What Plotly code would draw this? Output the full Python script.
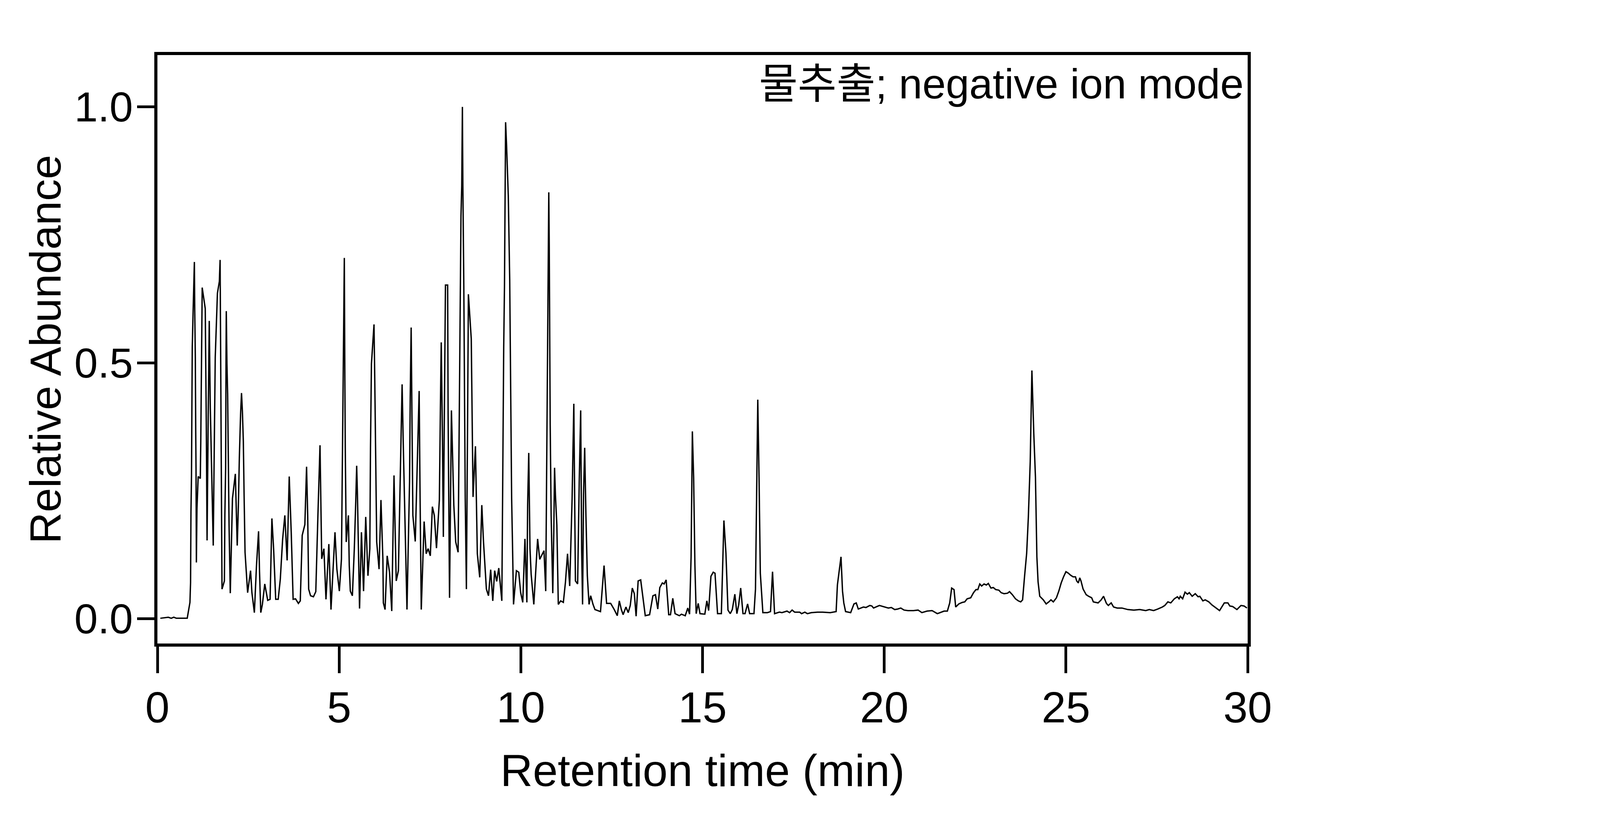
"""
Total ion chromatogram (water extract, negative ion mode): relative abundance vs retention time.
"""

import plotly.graph_objects as go

# Retention time (min) and relative abundance
rt_min = [
    0.08, 0.20, 0.30, 0.38, 0.45, 0.52, 0.82, 0.895,
    0.912, 0.923, 0.938, 0.949, 0.959, 0.983, 1.017, 1.027, 1.043, 1.054,
    1.062, 1.072, 1.088, 1.122, 1.180, 1.193, 1.206, 1.219, 1.232, 1.316,
    1.332, 1.345, 1.366, 1.381, 1.397, 1.426, 1.455, 1.481, 1.504, 1.536,
    1.552, 1.573, 1.591, 1.651, 1.704, 1.725, 1.735, 1.748, 1.756, 1.766,
    1.777, 1.803, 1.843, 1.856, 1.877, 1.887, 1.895, 1.913, 1.932, 1.953,
    1.971, 2.005, 2.039, 2.065, 2.144, 2.170, 2.196, 2.228, 2.254, 2.288,
    2.314, 2.338, 2.364, 2.385, 2.411, 2.482, 2.563, 2.600, 2.668, 2.726,
    2.783, 2.810, 2.844, 2.888, 2.954, 3.035, 3.100, 3.150, 3.197, 3.255,
    3.323, 3.381, 3.446, 3.506, 3.569, 3.627, 3.682, 3.734, 3.800, 3.879,
    3.931, 3.984, 4.057, 4.104, 4.135, 4.162, 4.214, 4.293, 4.358, 4.416,
    4.474, 4.521, 4.581, 4.638, 4.717,
    4.776, 4.886, 4.938, 5.006, 5.064, 5.090, 5.111, 5.124, 5.143, 5.158,
    5.169, 5.195, 5.255, 5.279, 5.308, 5.365, 5.418, 5.457, 5.483, 5.504,
    5.523, 5.562, 5.614, 5.640, 5.672, 5.732, 5.793, 5.845, 5.863, 5.889,
    5.908, 5.960, 5.981, 6.007, 6.034, 6.099, 6.151, 6.204, 6.217, 6.264,
    6.322, 6.387, 6.448, 6.510, 6.571, 6.631, 6.688, 6.733, 6.767, 6.820,
    6.867, 6.938, 6.956, 6.982, 7.003, 7.029, 7.095, 7.160, 7.202, 7.228,
    7.260, 7.339, 7.396, 7.448, 7.509, 7.566, 7.619, 7.679, 7.758, 7.789,
    7.810, 7.841, 7.868, 7.899, 7.926, 7.986, 7.999, 8.038, 8.070, 8.090,
    8.156, 8.208, 8.274, 8.326, 8.353, 8.374, 8.392, 8.405, 8.431, 8.470,
    8.502, 8.536, 8.557, 8.636,
    8.685, 8.751, 8.777, 8.803, 8.869, 8.926, 8.973, 9.052, 9.110, 9.170,
    9.228, 9.280, 9.335, 9.393, 9.477, 9.498, 9.511, 9.529, 9.550, 9.566,
    9.581, 9.608, 9.655, 9.694, 9.720, 9.747, 9.773, 9.799, 9.878, 9.943,
    9.995, 10.053, 10.113, 10.166, 10.187, 10.218, 10.252, 10.284, 10.357, 10.462,
    10.520, 10.637, 10.685, 10.716, 10.742, 10.755, 10.769, 10.782, 10.808, 10.834,
    10.879, 10.907, 10.928, 10.952, 10.991, 11.031, 11.096, 11.170, 11.227, 11.285,
    11.345, 11.411, 11.458, 11.502, 11.563, 11.607, 11.647, 11.673, 11.699, 11.725,
    11.757, 11.791, 11.830, 11.877, 11.922, 11.987, 12.040,
    12.192, 12.290, 12.360, 12.472, 12.563, 12.654, 12.710, 12.766, 12.815, 12.892,
    12.955, 13.011, 13.067, 13.123, 13.172, 13.228, 13.298, 13.354, 13.424, 13.543,
    13.634, 13.704, 13.768, 13.824, 13.894, 13.943, 13.999, 14.069, 14.118, 14.181,
    14.244, 14.363, 14.419, 14.524, 14.594, 14.643, 14.685, 14.720, 14.755, 14.790,
    14.825, 14.881, 14.930, 15.063, 15.119, 15.168, 15.231, 15.294, 15.343, 15.413,
    15.518, 15.588, 15.644, 15.700, 15.763, 15.819, 15.889, 15.945, 15.994, 16.050,
    16.113, 16.169, 16.240, 16.296, 16.415, 16.457, 16.492, 16.520, 16.555, 16.590,
    16.660, 16.786, 16.870, 16.926, 16.982, 17.115, 17.185, 17.325, 17.395, 17.465,
    17.535, 17.675, 17.724, 17.815, 17.885, 17.990, 18.165, 18.305, 18.515, 18.676,
    18.711, 18.761, 18.810, 18.852, 18.887, 18.936, 19.076, 19.167, 19.230, 19.286,
    19.426, 19.496, 19.601, 19.657, 19.706, 19.867, 20.021, 20.112, 20.196, 20.287,
    20.371, 20.455, 20.546, 20.651, 20.805, 20.931, 21.036, 21.176, 21.317,
    21.461, 21.645, 21.737, 21.802, 21.855, 21.920, 21.966, 22.051, 22.149, 22.215,
    22.281, 22.379, 22.457, 22.523, 22.575, 22.628, 22.680, 22.746, 22.811, 22.864,
    22.936, 23.001, 23.067, 23.152, 23.217, 23.296, 23.394, 23.447, 23.526, 23.611,
    23.689, 23.755, 23.807, 23.860, 23.919, 23.965, 24.017, 24.063, 24.115, 24.161,
    24.200, 24.233, 24.279, 24.377, 24.456, 24.528, 24.587, 24.653, 24.738, 24.803,
    24.869, 24.934, 25.000, 25.066, 25.131, 25.197, 25.262, 25.295, 25.341, 25.380,
    25.413, 25.472, 25.557, 25.623, 25.708, 25.754, 25.885, 25.970, 26.035, 26.114,
    26.166, 26.245, 26.311, 26.409, 26.540, 26.704, 26.868, 27.031, 27.195, 27.294,
    27.412, 27.523, 27.654, 27.720, 27.805, 27.884, 27.982, 28.067, 28.113, 28.146,
    28.211, 28.277, 28.342, 28.394, 28.473, 28.558, 28.637, 28.683, 28.768, 28.833,
    28.932, 29.017, 29.096, 29.227, 29.358, 29.456, 29.509, 29.587, 29.705, 29.817,
    29.902, 29.980,
]

rel_abundance = [
    0.001, 0.002, 0.003, 0.001, 0.003, 0.001, 0.001, 0.032,
    0.071, 0.209, 0.281, 0.419, 0.531, 0.603, 0.697, 0.603, 0.511, 0.366,
    0.294, 0.110, 0.215, 0.278, 0.274, 0.347, 0.439, 0.531, 0.647, 0.606,
    0.511, 0.379, 0.153, 0.314, 0.393, 0.582, 0.412, 0.327, 0.242, 0.143,
    0.255, 0.373, 0.511, 0.636, 0.659, 0.701, 0.570, 0.471, 0.294, 0.196,
    0.058, 0.064, 0.074, 0.202, 0.294, 0.498, 0.601, 0.498, 0.439, 0.301,
    0.183, 0.050, 0.150, 0.235, 0.283, 0.202, 0.143, 0.222, 0.314, 0.399,
    0.441, 0.406, 0.347, 0.242, 0.130, 0.051, 0.094, 0.051, 0.012, 0.104,
    0.171, 0.091, 0.012, 0.028, 0.068, 0.036, 0.038, 0.196, 0.137, 0.038,
    0.038, 0.077, 0.156, 0.202, 0.114, 0.278, 0.169, 0.038, 0.039, 0.030,
    0.035, 0.163, 0.184, 0.297, 0.202, 0.058, 0.045, 0.043, 0.053, 0.202,
    0.339, 0.117, 0.137, 0.038, 0.146,
    0.018, 0.169, 0.097, 0.054, 0.117, 0.320, 0.498, 0.609, 0.705, 0.465,
    0.334, 0.150, 0.202, 0.104, 0.054, 0.045, 0.137, 0.228, 0.299, 0.242,
    0.156, 0.020, 0.169, 0.123, 0.054, 0.199, 0.084, 0.137, 0.334, 0.498,
    0.517, 0.575, 0.465, 0.301, 0.150, 0.097, 0.232, 0.117, 0.031, 0.018,
    0.123, 0.091, 0.015, 0.280, 0.074, 0.094, 0.301, 0.458, 0.334, 0.169,
    0.018, 0.268, 0.432, 0.569, 0.399, 0.202, 0.151, 0.334, 0.445, 0.235,
    0.018, 0.190, 0.127, 0.137, 0.123, 0.219, 0.202, 0.138, 0.232, 0.425,
    0.540, 0.366, 0.160, 0.432, 0.652, 0.652, 0.399, 0.041, 0.268, 0.407,
    0.222, 0.150, 0.130, 0.531, 0.787, 0.846, 1.000, 0.846, 0.649, 0.235,
    0.058, 0.399, 0.634, 0.547,
    0.238, 0.337, 0.222, 0.127, 0.081, 0.222, 0.150, 0.058, 0.045, 0.096,
    0.035, 0.094, 0.073, 0.099, 0.035, 0.228, 0.399, 0.531, 0.649, 0.793,
    0.970, 0.924, 0.826, 0.662, 0.465, 0.235, 0.137, 0.028, 0.094, 0.091,
    0.051, 0.032, 0.156, 0.032, 0.222, 0.324, 0.137, 0.087, 0.028, 0.156,
    0.116, 0.133, 0.054, 0.334, 0.596, 0.727, 0.833, 0.727, 0.379, 0.202,
    0.050, 0.169, 0.295, 0.242, 0.183, 0.028, 0.035, 0.032, 0.071, 0.127,
    0.064, 0.235, 0.420, 0.074, 0.068, 0.268, 0.407, 0.137, 0.028, 0.242,
    0.334, 0.202, 0.084, 0.028, 0.045, 0.028, 0.018,
    0.014, 0.104, 0.030, 0.030, 0.019, 0.006, 0.035, 0.018, 0.008, 0.023,
    0.012, 0.026, 0.060, 0.049, 0.005, 0.074, 0.076, 0.047, 0.006, 0.008,
    0.045, 0.047, 0.019, 0.061, 0.070, 0.068, 0.076, 0.008, 0.008, 0.040,
    0.010, 0.006, 0.009, 0.006, 0.021, 0.009, 0.121, 0.366, 0.276, 0.105,
    0.010, 0.030, 0.010, 0.009, 0.035, 0.016, 0.083, 0.091, 0.089, 0.010,
    0.010, 0.192, 0.128, 0.017, 0.010, 0.018, 0.048, 0.010, 0.027, 0.060,
    0.010, 0.010, 0.029, 0.010, 0.010, 0.058, 0.276, 0.428, 0.276, 0.089,
    0.012, 0.012, 0.014, 0.092, 0.010, 0.013, 0.012, 0.015, 0.012, 0.017,
    0.013, 0.013, 0.010, 0.013, 0.010, 0.012, 0.013, 0.013, 0.012, 0.014,
    0.066, 0.093, 0.121, 0.054, 0.031, 0.014, 0.012, 0.029, 0.031, 0.019,
    0.023, 0.022, 0.026, 0.025, 0.021, 0.026, 0.023, 0.021, 0.022, 0.018,
    0.019, 0.021, 0.017, 0.016, 0.016, 0.017, 0.012, 0.015, 0.016,
    0.010, 0.015, 0.015, 0.031, 0.060, 0.057, 0.023, 0.029, 0.032, 0.033,
    0.039, 0.041, 0.051, 0.057, 0.057, 0.068, 0.064, 0.068, 0.066, 0.069,
    0.060, 0.061, 0.057, 0.056, 0.051, 0.049, 0.050, 0.053, 0.047, 0.039,
    0.035, 0.033, 0.037, 0.082, 0.128, 0.198, 0.307, 0.485, 0.362, 0.276,
    0.121, 0.072, 0.044, 0.037, 0.029, 0.033, 0.037, 0.033, 0.041, 0.054,
    0.070, 0.082, 0.092, 0.089, 0.085, 0.082, 0.082, 0.074, 0.070, 0.080,
    0.074, 0.058, 0.047, 0.044, 0.041, 0.033, 0.031, 0.037, 0.044, 0.030,
    0.026, 0.031, 0.023, 0.021, 0.021, 0.018, 0.017, 0.018, 0.016, 0.018,
    0.016, 0.019, 0.023, 0.026, 0.033, 0.031, 0.039, 0.043, 0.039, 0.044,
    0.039, 0.052, 0.048, 0.051, 0.044, 0.049, 0.043, 0.044, 0.035, 0.037,
    0.033, 0.027, 0.023, 0.016, 0.031, 0.031, 0.025, 0.024, 0.018, 0.026,
    0.025, 0.021,
]

x_ticks = [0, 5, 10, 15, 20, 25, 30]
y_ticks = [0.0, 0.5, 1.0]
sample_label = "물추출; negative ion mode"

font_family = "Arial, Liberation Sans, Noto Sans CJK KR, sans-serif"

# The browser viewport is 4096 px wide (page body adds an 8 px margin),
# so the figure is sized to fit it instead of the nominal 6000 px.
fig_width = 4080
fig_height = 2084

fig = go.Figure()

fig.add_trace(go.Scatter(
    x=rt_min,
    y=rel_abundance,
    mode="lines",
    line={"color": "black", "width": 3.5},
    showlegend=False,
    hoverinfo="skip",
))

# Sample label in the top-right corner of the frame
fig.add_annotation(
    x=1, y=1,
    xref="paper", yref="paper",
    xanchor="right", yanchor="top",
    xshift=-8, yshift=-11,
    text=sample_label,
    showarrow=False,
    font={"size": 108, "color": "black", "family": font_family},
)

axis_common = {
    "showline": True,
    "linecolor": "black",
    "linewidth": 8,
    "mirror": True,
    "showgrid": False,
    "zeroline": False,
    "ticks": "outside",
    "tickwidth": 7,
    "tickcolor": "black",
}

fig.update_layout(
    width=fig_width,
    height=fig_height,
    margin={"l": 395, "r": 894, "t": 133, "b": 444},
    paper_bgcolor="white",
    plot_bgcolor="white",
    font={"family": font_family, "color": "black"},
    xaxis={
        **axis_common,
        "range": [0, 30],
        "tickvals": x_ticks,
        "ticklen": 68,
        "ticklabelstandoff": -8,
        "tickfont": {"size": 112, "color": "black", "family": font_family},
        "title": {
            "text": "Retention time (min)",
            "font": {"size": 115, "color": "black", "family": font_family},
            "standoff": 62,
        },
    },
    yaxis={
        **axis_common,
        "range": [-0.0483, 1.1012],
        "tickvals": y_ticks,
        "tickformat": ".1f",
        "ticklen": 44,
        "ticklabelstandoff": -11,
        "tickfont": {"size": 108, "color": "black", "family": font_family},
        "title": {
            "text": "Relative Abundance",
            "font": {"size": 112, "color": "black", "family": font_family},
            "standoff": 0,
        },
    },
)

fig.write_html("out.html")
